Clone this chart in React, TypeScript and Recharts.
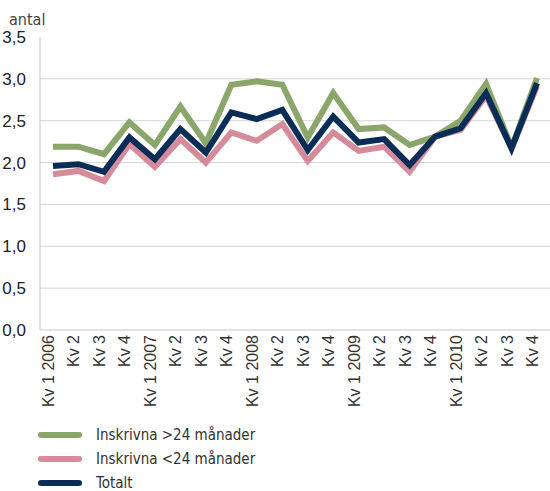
import React from "react";
import { LineChart, Line, XAxis, YAxis, CartesianGrid, Legend } from "recharts";

const quarters = [
  "Kv 1 2006", "Kv 2", "Kv 3", "Kv 4",
  "Kv 1 2007", "Kv 2", "Kv 3", "Kv 4",
  "Kv 1 2008", "Kv 2", "Kv 3", "Kv 4",
  "Kv 1 2009", "Kv 2", "Kv 3", "Kv 4",
  "Kv 1 2010", "Kv 2", "Kv 3", "Kv 4",
];

const over24 = [
  2.19, 2.19, 2.1, 2.48, 2.21, 2.67, 2.23, 2.93, 2.97, 2.93,
  2.3, 2.83, 2.4, 2.42, 2.21, 2.31, 2.5, 2.94, 2.18, 3.01,
];
const under24 = [
  1.86, 1.9, 1.78, 2.22, 1.95, 2.28, 2.0, 2.36, 2.26, 2.46,
  2.02, 2.36, 2.14, 2.19, 1.89, 2.31, 2.39, 2.8, 2.17, 2.91,
];
const totalt = [
  1.96, 1.98, 1.89, 2.3, 2.04, 2.4, 2.12, 2.6, 2.52, 2.63,
  2.15, 2.55, 2.24, 2.28, 1.97, 2.31, 2.41, 2.83, 2.17, 2.95,
];

const yTicks = [0, 0.5, 1, 1.5, 2, 2.5, 3, 3.5];
const gridValues = [0.5, 1, 1.5, 2, 2.5, 3];

const seriesInfo = [
  { key: "over", name: "Inskrivna >24 månader", color: "#8ba66b" },
  { key: "under", name: "Inskrivna <24 månader", color: "#d58b99" },
  { key: "total", name: "Totalt", color: "#0a2d57" },
];

const data = quarters.map((q, i) => ({
  idx: i,
  label: q,
  over: over24[i],
  under: under24[i],
  total: totalt[i],
}));

const tickFont = "'Liberation Sans', Arial, sans-serif";
const narrowFont = "'Liberation Sans Narrow', 'DejaVu Sans Condensed', 'Liberation Sans', sans-serif";

const fmt = (v: number) => v.toFixed(1).replace(".", ",");

const XTick = (props: any) => {
  const { x, y, payload } = props;
  const ty = y - 3;
  return (
    <text
      x={x + 1}
      y={ty}
      transform={`rotate(-90, ${x + 1}, ${ty})`}
      textAnchor="end"
      fontSize={16}
      fontFamily={tickFont}
      fill="#333"
    >
      {quarters[payload.value]}
    </text>
  );
};

const LegendBox = () => (
  <div style={{ height: 81, paddingTop: 13, boxSizing: "border-box", paddingLeft: 38 }}>
    {seriesInfo.map((s) => (
      <div key={s.key} style={{ display: "flex", alignItems: "center", height: 24 }}>
        <span
          style={{
            display: "inline-block",
            width: 44,
            height: 6,
            borderRadius: 3,
            background: s.color,
            marginRight: 14,
          }}
        />
        <span style={{ fontFamily: narrowFont, fontSize: 15, color: "#333", lineHeight: "16px" }}>
          {s.name}
        </span>
      </div>
    ))}
  </div>
);

const App = () => {
  return (
    <div style={{ position: "absolute", left: 0, top: 0, background: "#fff" }}>
      <LineChart
        width={550}
        height={491}
        data={data}
        margin={{ top: 37, right: 0, bottom: 0, left: 0 }}
      >
        <CartesianGrid vertical={false} stroke="#d6d6d6" horizontalValues={gridValues} />
        <XAxis
          dataKey="idx"
          type="category"
          height={80}
          interval={0}
          padding={{ left: 13, right: 13 }}
          tick={<XTick />}
          tickLine={false}
          axisLine={{ stroke: "#c8c8c8" }}
        />
        <YAxis
          width={40}
          domain={[0, 3.5]}
          ticks={yTicks}
          tickFormatter={fmt}
          tickLine={false}
          tickMargin={8}
          axisLine={{ stroke: "#c8c8c8" }}
          tick={{ fontSize: 17, fill: "#222", fontFamily: tickFont }}
          label={{
            value: "antal",
            content: () => (
              <text x={9} y={25} fontSize={16} fontFamily={narrowFont} fill="#444">
                antal
              </text>
            ),
          }}
        />
        <Legend verticalAlign="bottom" align="left" content={<LegendBox />} />
        {seriesInfo.map((s) => (
          <Line
            key={s.key}
            dataKey={s.key}
            name={s.name}
            stroke={s.color}
            strokeWidth={6}
            dot={false}
            activeDot={false}
            type="linear"
            isAnimationActive={false}
          />
        ))}
      </LineChart>
    </div>
  );
};

export default App;
